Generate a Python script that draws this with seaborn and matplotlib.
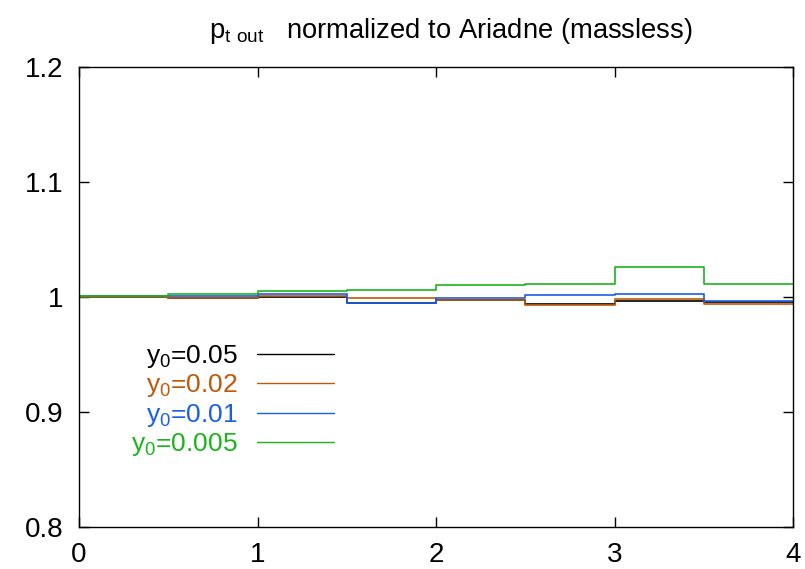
import numpy as np
import pandas as pd
import matplotlib
matplotlib.use("Agg")
import matplotlib.pyplot as plt
import seaborn as sns

# bin edges of the pt_out histogram and ratio to Ariadne per bin
edges = [0, 0.5, 1, 1.5, 2, 2.5, 3, 3.5, 4]
ratio_005 = [1.0003, 0.9993, 1.0000, 0.9947, 0.9977, 0.9935, 0.9968, 0.9960]
ratio_002 = [1.0003, 0.9991, 1.0006, 0.9989, 0.9977, 0.9930, 0.9980, 0.9942]
ratio_001 = [1.0005, 1.0012, 1.0023, 0.9945, 0.9989, 1.0017, 1.0026, 0.9968]
ratio_0005 = [1.0013, 1.0023, 1.0050, 1.0060, 1.0104, 1.0113, 1.0264, 1.0113]

labels = [r"$\mathregular{y_0}$=0.05", r"$\mathregular{y_0}$=0.02",
          r"$\mathregular{y_0}$=0.01", r"$\mathregular{y_0}$=0.005"]
colors = ["#000000", "#c0580a", "#1a5ee8", "#1cb41c"]

sns.set_style("ticks")
plt.rcParams["font.family"] = ["Liberation Sans", "DejaVu Sans"]
plt.rcParams["mathtext.fontset"] = "custom"
plt.rcParams["mathtext.rm"] = "Liberation Sans"
plt.rcParams["text.color"] = "black"

rows = []
for lab, vals in zip(labels, [ratio_005, ratio_002, ratio_001, ratio_0005]):
    # repeat last value so the final bin is drawn with steps-post
    for x, y in zip(edges, vals + [vals[-1]]):
        rows.append({"x": x, "ratio": y, "y0": lab})
df = pd.DataFrame(rows)

fig = plt.figure(figsize=(8.05, 5.69), dpi=100)
ax = fig.add_axes([79 / 805, 1 - 527 / 569, 714 / 805, 460 / 569])

sns.lineplot(data=df, x="x", y="ratio", hue="y0", hue_order=labels,
             palette=dict(zip(labels, colors)), drawstyle="steps-post",
             linewidth=1.2, legend=False, ax=ax, sort=False)

ax.set_xlim(0, 4)
ax.set_ylim(0.8, 1.2)
ax.set_xticks([0, 1, 2, 3, 4])
ax.set_yticks([0.8, 0.9, 1.0, 1.1, 1.2])
ax.set_xticklabels(["0", "1", "2", "3", "4"])
ax.set_yticklabels(["0.8", "0.9", "1", "1.1", "1.2"])
ax.tick_params(direction="in", length=7, width=1, top=True, right=True,
               labelsize=20, pad=11, colors="black")
ax.set_xlabel("")
ax.set_ylabel("")
for sp in ax.spines.values():
    sp.set_visible(True)
    sp.set_color("black")
    sp.set_linewidth(1)

handles = ax.get_lines()[:4]
for h, c in zip(handles, colors):
    h.set_color(c)
leg = ax.legend(handles, labels, loc="upper right", markerfirst=False,
                frameon=False, fontsize=19, labelcolor=colors,
                handlelength=2.9, handletextpad=0.75, labelspacing=0.09,
                borderpad=0, borderaxespad=0,
                bbox_to_anchor=(334 / 805, 1 - 343 / 569),
                bbox_transform=fig.transFigure)
for line in leg.get_lines():
    line.set_linewidth(1)

fig.text(451 / 805, 1 - 31 / 569,
         r"$\mathregular{p_{t\ out}}$   normalized to Ariadne (massless)",
         ha="center", va="center", fontsize=19.7)

fig.savefig("out.png", dpi=100)
